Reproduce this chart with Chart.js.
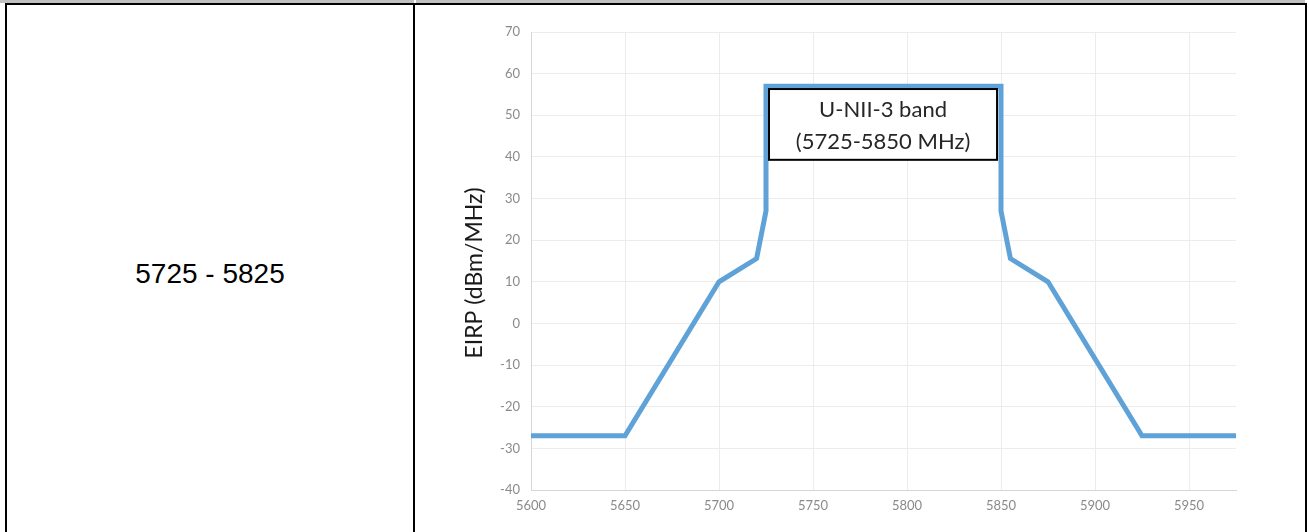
<!DOCTYPE html>
<html>
<head>
<meta charset="utf-8">
<title>U-NII-3 EIRP mask</title>
<script src="https://cdn.jsdelivr.net/npm/chart.js@4.4.1/dist/chart.umd.min.js"></script>
<style>
  html, body { margin: 0; padding: 0; background: #fff; }
  body { width: 1309px; height: 532px; position: relative; overflow: hidden; }
  .band { position: absolute; top: 0; height: 3px; background: #c0c0c0; }
  .rule { position: absolute; background: #000; }
  #rowLabel {
    position: absolute; left: 7px; width: 406px; top: 258px;
    text-align: center; font: 28px "Liberation Sans", Arial, sans-serif; color: #000;
  }
  #chartBox { position: absolute; left: 416px; top: 5px; width: 888px; height: 527px; }
</style>
</head>
<body>
<div class="band" style="left:0;width:414px"></div>
<div class="band" style="left:416px;width:889px"></div>
<div class="rule" style="left:5px;top:3px;width:1302px;height:2px"></div>
<div class="rule" style="left:5px;top:3px;width:2px;height:529px"></div>
<div class="rule" style="left:413px;top:3px;width:2px;height:529px"></div>
<div class="rule" style="left:1305px;top:3px;width:2px;height:529px"></div>

<div id="rowLabel">5725 - 5825</div>

<div id="chartBox"><canvas id="chartMask"></canvas></div>

<script>
// mask corners
const freqMHz = [5600, 5650, 5700, 5720, 5725, 5725, 5850, 5850, 5855, 5875, 5925, 5975];
const eirpDbm = [-27, -27, 10, 15.6, 27, 57, 57, 27, 15.6, 10, -27, -27];

const xTicks = [5600, 5650, 5700, 5750, 5800, 5850, 5900, 5950];
const yTicks = [-40, -30, -20, -10, 0, 10, 20, 30, 40, 50, 60, 70];

// label box corners, in chart units
const boxFreq = [5726.6, 5847.9];
const boxEirp = [56.3, 39.3];
const boxLines = ["U-NII-3 band", "(5725-5850 MHz)"];
const yTitle = "EIRP (dBm/MHz)";

const tickFont = { family: "Lato", size: 13 };
const gridColor = "#ececec";

const bandLabel = {
  id: "bandLabel",
  afterDatasetsDraw(chart) {
    const { ctx, scales: { x, y } } = chart;
    const l = x.getPixelForValue(boxFreq[0]);
    const r = x.getPixelForValue(boxFreq[1]);
    const t = y.getPixelForValue(boxEirp[0]);
    const b = y.getPixelForValue(boxEirp[1]);
    ctx.save();
    ctx.fillStyle = "#fff";
    ctx.fillRect(l, t, r - l, b - t);
    ctx.lineWidth = 2;
    ctx.strokeStyle = "#000";
    ctx.strokeRect(l, t, r - l, b - t);
    ctx.fillStyle = "#262626";
    ctx.font = "22px Lato";
    ctx.textAlign = "center";
    ctx.textBaseline = "middle";
    const cx = (l + r) / 2;
    ctx.fillText(boxLines[0], cx, t + 21);
    ctx.fillText(boxLines[1], cx, t + 53);

    // axis title
    ctx.translate(59, 268);
    ctx.rotate(-Math.PI / 2);
    ctx.font = "23px Lato";
    ctx.fillStyle = "#1a1a1a";
    ctx.fillText(yTitle, 0, 0);
    ctx.restore();
  }
};

const maskPoints = freqMHz.map((f, i) => ({ x: f, y: eirpDbm[i] }));

new Chart(document.getElementById("chartMask"), {
  type: "scatter",
  data: {
    datasets: [{
      label: "EIRP",
      data: maskPoints,
      showLine: true,
      borderColor: "#5fa2d8",
      borderWidth: 5,
      pointRadius: 0,
      tension: 0,
      borderJoinStyle: "miter"
    }]
  },
  options: {
    responsive: true,
    maintainAspectRatio: false,
    animation: false,
    layout: { padding: { left: 0, right: 68, top: 27, bottom: 0 } },
    plugins: {
      legend: { display: false },
      tooltip: { enabled: false }
    },
    scales: {
      x: {
        type: "linear",
        min: 5600,
        max: 5975,
        afterFit: s => { s.height = 42; },
        afterBuildTicks: s => { s.ticks = xTicks.map(v => ({ value: v })); },
        ticks: { font: tickFont, color: "#8a8a8a", padding: 8, maxRotation: 0, callback: v => String(v) },
        grid: { color: gridColor, drawTicks: false },
        border: { color: "#d6d6d6" }
      },
      y: {
        min: -40,
        max: 70,
        afterFit: s => { s.width = 115; },
        afterBuildTicks: s => { s.ticks = yTicks.map(v => ({ value: v })); },
        ticks: { font: tickFont, color: "#8a8a8a", padding: 11, callback: v => String(v) },
        grid: { color: gridColor, drawTicks: false },
        border: { color: "#d6d6d6" }
      }
    }
  },
  plugins: [bandLabel]
});
</script>
</body>
</html>
